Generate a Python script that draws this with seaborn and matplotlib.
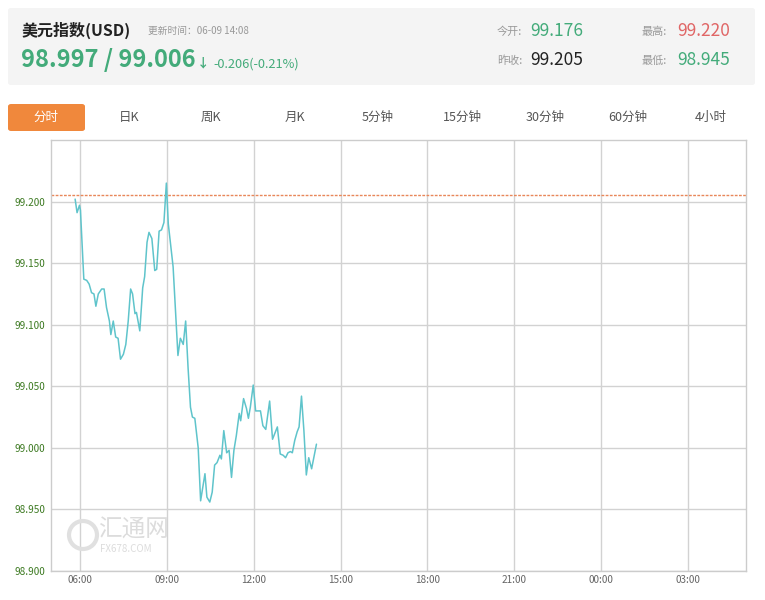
import matplotlib
matplotlib.use("Agg")
import matplotlib.pyplot as plt
import matplotlib.dates as mdates
from matplotlib.patches import FancyBboxPatch, Ellipse
import seaborn as sns
import pandas as pd

# ---------------- data ----------------
times = ["05:50", "05:54", "05:59", "06:01", "06:08", "06:14", "06:19", "06:24", "06:29", "06:33",
         "06:38", "06:45", "06:50", "06:55", "07:01", "07:04", "07:09", "07:14", "07:19", "07:24",
         "07:30", "07:35", "07:40", "07:45", "07:49", "07:54", "07:57", "08:04", "08:10", "08:14",
         "08:19", "08:23", "08:29", "08:35", "08:39", "08:44", "08:49", "08:54", "08:59", "09:03",
         "09:13", "09:23", "09:28", "09:34", "09:39", "09:44", "09:49", "09:53", "09:58", "10:05",
         "10:10", "10:19", "10:23", "10:29", "10:34", "10:39", "10:44", "10:50", "10:53", "10:58",
         "11:04", "11:09", "11:14", "11:19", "11:24", "11:30", "11:33", "11:39", "11:45", "11:49",
         "11:53", "11:59", "12:04", "12:09", "12:14", "12:19", "12:25", "12:33", "12:39", "12:43",
         "12:49", "12:55", "13:01", "13:06", "13:11", "13:16", "13:20", "13:25", "13:30", "13:34",
         "13:39", "13:44", "13:49", "13:54", "14:00", "14:10"]
values = [99.202, 99.191, 99.197, 99.193, 99.137, 99.136, 99.133, 99.126, 99.125, 99.115,
          99.125, 99.129, 99.129, 99.114, 99.103, 99.092, 99.103, 99.090, 99.089, 99.072,
          99.076, 99.084, 99.103, 99.129, 99.125, 99.109, 99.110, 99.095, 99.130, 99.139,
          99.167, 99.175, 99.170, 99.144, 99.145, 99.176, 99.177, 99.183, 99.215, 99.182,
          99.147, 99.075, 99.089, 99.084, 99.103, 99.065, 99.033, 99.025, 99.024, 99.000,
          98.957, 98.979, 98.960, 98.956, 98.964, 98.986, 98.988, 98.994, 98.991, 99.014,
          98.996, 98.998, 98.976, 98.998, 99.010, 99.028, 99.022, 99.040, 99.032, 99.024,
          99.033, 99.051, 99.030, 99.030, 99.030, 99.018, 99.015, 99.038, 99.007, 99.011,
          99.017, 98.995, 98.994, 98.992, 98.996, 98.997, 98.996, 99.006, 99.013, 99.017,
          99.042, 99.014, 98.978, 98.992, 98.983, 99.003]
prev_close = 99.205
y_ticks = [98.900, 98.950, 99.000, 99.050, 99.100, 99.150, 99.200]
x_tick_labels = ["06:00", "09:00", "12:00", "15:00", "18:00", "21:00", "00:00", "03:00"]
tabs = ["分时", "日K", "周K", "月K", "5分钟", "15分钟", "30分钟", "60分钟", "4小时"]

title = "美元指数(USD)"
update_text = "更新时间：06-09 14:08"
price_text = "98.997 / 99.006"
change_text = "-0.206(-0.21%)"
open_val, high_val, prev_val, low_val = "99.176", "99.220", "99.205", "98.945"

# ---------------- build frame ----------------
day = pd.Timestamp("2020-06-09")
df = pd.DataFrame({
    "time": [day + pd.Timedelta(hours=int(t[:2]), minutes=int(t[3:])) for t in times],
    "value": values,
})
x_start = day + pd.Timedelta(hours=5)
x_end = x_start + pd.Timedelta(hours=24)
tick_pos = [day + pd.Timedelta(hours=6 + 3 * i) for i in range(len(x_tick_labels))]

sns.set_style("white")
plt.rcParams["font.family"] = ["Noto Sans CJK SC", "DejaVu Sans"]

W, H = 765, 600
fig = plt.figure(figsize=(W / 100, H / 100), dpi=100)
fig.patch.set_facecolor("white")


def fx(px):
    return px / W


def fy(py):
    return 1 - py / H


# header panel
fig.patches.append(FancyBboxPatch((fx(8), fy(85)), fx(747), 77 / H, boxstyle="round,pad=0,rounding_size=0.004",
                                  transform=fig.transFigure, facecolor="#f4f4f4", edgecolor="none", zorder=0))
green = "#43ab7a"
fig.text(fx(22), fy(30), title, fontsize=11.5, fontweight="bold", color="#222222", va="center", ha="left")
fig.text(fx(148), fy(31), update_text, fontsize=7, color="#999999", va="center", ha="left")
pt = fig.text(fx(21), fy(60), price_text, fontsize=17, fontweight="bold", color=green, va="center", ha="left")
renderer = fig.canvas.get_renderer()
bb = pt.get_window_extent(renderer=renderer)
fig.text((bb.x1 + 1) / W, fy(64), "↓", fontsize=9, fontweight="bold", color=green, va="center", ha="left")
fig.text(fx(213), fy(64), change_text, fontsize=9.2, color=green, va="center", ha="left")

fig.text(fx(497), fy(32), "今开:", fontsize=8, color="#999999", va="center", ha="left")
fig.text(fx(530), fy(31), open_val, fontsize=12.5, color=green, va="center", ha="left")
fig.text(fx(642), fy(32), "最高:", fontsize=8, color="#999999", va="center", ha="left")
fig.text(fx(677), fy(31), high_val, fontsize=12.5, color="#e06666", va="center", ha="left")
fig.text(fx(497), fy(61), "昨收:", fontsize=8, color="#999999", va="center", ha="left")
fig.text(fx(530), fy(60), prev_val, fontsize=12.5, color="#222222", va="center", ha="left")
fig.text(fx(642), fy(61), "最低:", fontsize=8, color="#999999", va="center", ha="left")
fig.text(fx(677), fy(60), low_val, fontsize=12.5, color=green, va="center", ha="left")

# tabs
fig.patches.append(FancyBboxPatch((fx(8), fy(131)), fx(77), 27 / H, boxstyle="round,pad=0,rounding_size=0.004",
                                  transform=fig.transFigure, facecolor="#f0883c", edgecolor="none", zorder=0))
tab_x = [46, 129, 211, 295, 378, 462, 545, 628, 711]
for i, (tx, lab) in enumerate(zip(tab_x, tabs)):
    fig.text(fx(tx), fy(117), lab, fontsize=9, color="white" if i == 0 else "#555555",
             va="center", ha="center")

# main axes
ax = fig.add_axes([fx(51), 1 - 571 / H, fx(746) - fx(51), (571 - 140) / H])
sns.lineplot(data=df, x="time", y="value", ax=ax, color="#5fc4cb", linewidth=1.1, zorder=3)
ax.axhline(prev_close, color="#e8875a", linestyle=(0, (2, 1)), linewidth=1.0, zorder=2)

ax.set_xlim(x_start, x_end)
ax.set_ylim(98.9, 99.25)
ax.set_yticks(y_ticks)
ax.set_yticklabels([f"{v:.3f}" for v in y_ticks])
ax.set_xticks(tick_pos)
ax.set_xticklabels(x_tick_labels)
ax.set_xlabel("")
ax.set_ylabel("")
ax.grid(True, color="#d2d2d2", linewidth=1.0, zorder=0)
ax.set_axisbelow(True)
ax.tick_params(axis="both", length=0, labelsize=7.2)
ax.tick_params(axis="y", colors="#3d7a22", pad=4)
ax.tick_params(axis="x", colors="#666666", pad=3)
for s in ax.spines.values():
    s.set_color("#cccccc")
    s.set_linewidth(1.0)

# watermark
fig.patches.append(Ellipse((fx(83), fy(535)), 28 / W, 28 / H, transform=fig.transFigure,
                           facecolor="none", edgecolor="#e0e0e0", linewidth=3, zorder=1))
fig.text(fx(98), fy(530), "汇通网", fontsize=17, color="#dcdcdc", va="center", ha="left")
fig.text(fx(100), fy(549), "FX678.COM", fontsize=7, color="#dcdcdc", va="center", ha="left")

fig.savefig("out.png", dpi=100)
